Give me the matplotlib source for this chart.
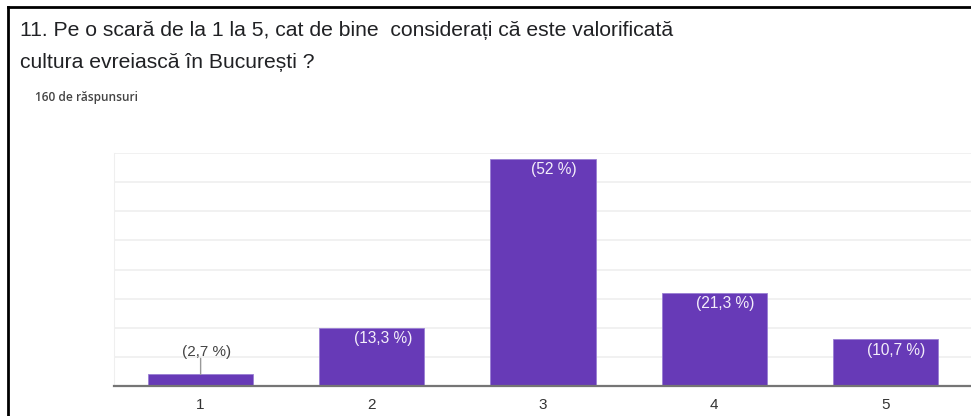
import matplotlib
matplotlib.use('Agg')
import matplotlib.pyplot as plt
from matplotlib.lines import Line2D

# date: scara 1-5, numar de raspunsuri si procente
categorii = ['1', '2', '3', '4', '5']
raspunsuri = [4, 20, 78, 32, 16]
procente = ['(2,7 %)', '(13,3 %)', '(52 %)', '(21,3 %)', '(10,7 %)']

titlu1 = '11. Pe o scară de la 1 la 5, cat de bine  considerați că este valorificată'
titlu2 = 'cultura evreiască în București ?'
subtitlu = '160 de răspunsuri'

plt.rcParams['font.family'] = ['Liberation Sans', 'DejaVu Sans']

W, H = 971, 416
fig = plt.figure(figsize=(W / 100, H / 100), dpi=100)
fig.patch.set_facecolor('white')

# zona graficului
ax = fig.add_axes([114 / W, (H - 386) / H, 1 - 114 / W, (386 - 153) / H])
x = range(1, len(categorii) + 1)
ax.bar(x, raspunsuri, width=0.615, color='#673ab7', edgecolor='#9a7fd4',
       linewidth=0.6, zorder=3)
ax.set_xlim(0.494, 5.5)
ax.set_ylim(0, 80)
ax.set_yticks(range(0, 81, 10))
ax.yaxis.grid(True, color='#efefef', linewidth=1.2, zorder=0)
ax.set_yticklabels([])
ax.tick_params(axis='y', length=0)
ax.set_xticks(list(x))
ax.set_xticklabels(categorii, fontsize=11, color='#333333')
ax.tick_params(axis='x', length=0, pad=8.5)
for s in ['top', 'right']:
    ax.spines[s].set_visible(False)
ax.spines['left'].set_color('#efefef')
ax.spines['bottom'].set_color('#757575')
ax.spines['bottom'].set_linewidth(1.6)
ax.spines['bottom'].set_zorder(4)

# etichete procente
for xi, v, p in zip(x, raspunsuri, procente):
    if v < 10:
        ax.annotate(p, (xi, v), xytext=(4, 11), textcoords='offset points',
                    ha='center', va='bottom', fontsize=11, color='#444444')
        ax.annotate('', (xi, v), xytext=(0, 11.5), textcoords='offset points',
                    arrowprops=dict(arrowstyle='-', color='#999999', lw=1,
                                    shrinkA=0, shrinkB=0))
    else:
        ax.annotate(p, (xi, v), xytext=(8, -8), textcoords='offset points',
                    ha='center', va='center', fontsize=11.2, color='#f3eefa',
                    zorder=5)

# titlu si subtitlu
fig.text(20 / W, 1 - 31 / H, titlu1, fontsize=15.2, color='#202124', va='center')
fig.text(20 / W, 1 - 62 / H, titlu2, fontsize=15.2, color='#202124', va='center')
fig.text(35 / W, 1 - 98 / H, subtitlu, fontsize=8.6, color='#444444',
         va='center', family=['Open Sans', 'DejaVu Sans'], weight='semibold')

# chenarul negru din captura
fig.add_artist(Line2D([8 / W, 8 / W], [0, 1 - 7 / H], color='black', lw=2))
fig.add_artist(Line2D([8 / W, 1], [1 - 7 / H, 1 - 7 / H], color='black', lw=2))

fig.savefig('out.png', dpi=100)
